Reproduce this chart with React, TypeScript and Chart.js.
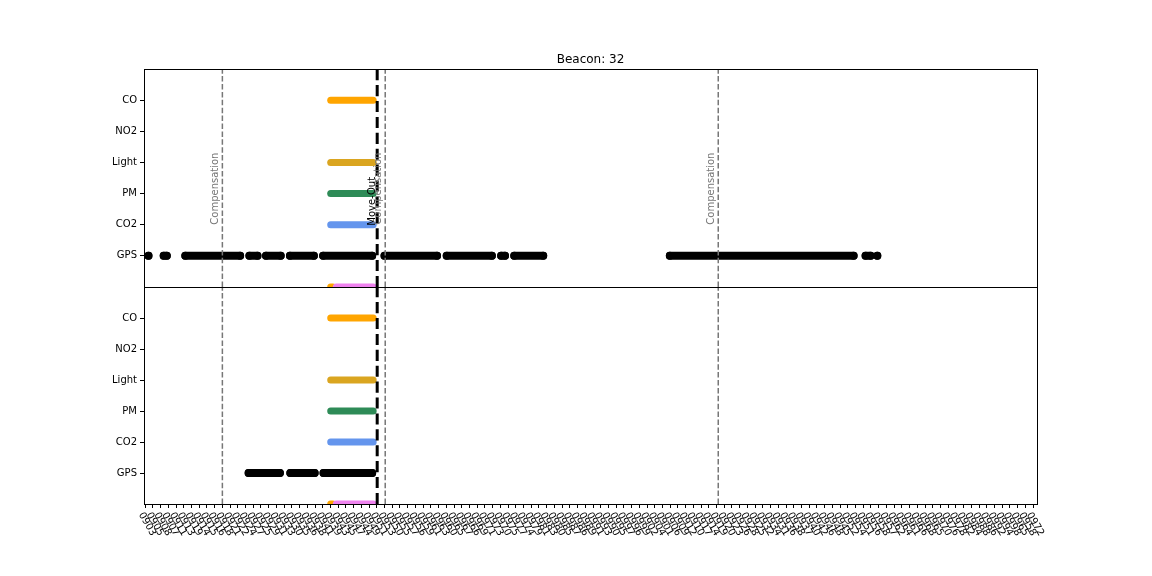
import React, { useEffect, useRef } from "react";
import { Chart, registerables } from "chart.js";
Chart.register(...registerables);

// ---------- data ----------
const yCategories = ["", "GPS", "CO2", "PM", "Light", "NO2", "CO"];
const xTickLabels = (
  "0903 0905 0908 0907 0911 0913 0919 0914 0915 0916 " +
  "0918 0921 0922 0924 0927 0925 0929 0931 0933 0930 " +
  "0935 0936 0938 0941 0939 0943 0945 0947 0944 0949 " +
  "0951 0953 0950 0955 0957 0956 0959 0961 0963 0960 " +
  "0965 0967 0966 0969 0971 0973 0970 0975 0977 0974 " +
  "0979 0981 0983 0980 0985 0987 0986 0989 0991 0993 " +
  "0990 0995 0997 0996 0999 0902 0904 0901 0906 0909 " +
  "0912 0910 0917 0914 0919 0920 0923 0926 0928 0925 " +
  "0932 0934 0931 0936 0938 0937 0940 0942 0946 0948 " +
  "0945 0952 0954 0951 0956 0958 0957 0962 0964 0961 " +
  "0966 0968 0965 0970 0976 0978 0982 0984 0988 0986 " +
  "0992 0994 0998 0965 0958 0972"
).split(" ");

// sensor runs [start, end] in x-index units
const coRun = [24.03, 29.53];
const lightRun = [24.03, 29.53];
const pmRun = [24.03, 29.53];
const co2Run = [24.03, 29.53];
const orangeTipRun = [24.03, 24.3];
const pinkRun = [24.75, 29.53];

const topGpsRuns: number[][] = [
  [0.43, 0.43],
  [2.4, 2.8],
  [5.2, 12.3],
  [13.5, 14.55],
  [15.65, 17.55],
  [18.75, 21.85],
  [23.05, 29.4],
  [31.0, 37.8],
  [39.05, 44.9],
  [46.1, 46.6],
  [47.8, 51.55],
  [67.95, 91.75],
  [93.3, 93.95],
  [94.82, 94.82],
];
const bottomGpsRuns: number[][] = [
  [13.4, 17.45],
  [18.8, 21.95],
  [23.1, 29.4],
];

const compensationX = [10.0, 31.09, 74.22];
const moveOutX = 30.05;
const titleText = "Beacon: 32";

const X_MIN = -0.15;
const X_MAX = 115.5;
const FONT = "'DejaVu Sans', sans-serif";

function runsToData(runs: number[][], y: number) {
  const out: { x: number; y: number | null }[] = [];
  runs.forEach((r, i) => {
    if (i > 0) out.push({ x: (runs[i - 1][1] + r[0]) / 2, y: null });
    out.push({ x: r[0], y });
    if (r[1] !== r[0]) out.push({ x: r[1], y });
  });
  return out;
}

function seg(run: number[], y: number, color: string, order: number, width = 7) {
  return {
    data: runsToData([run], y),
    borderColor: color,
    backgroundColor: color,
    borderWidth: width,
    borderCapStyle: "round" as const,
    pointRadius: 0,
    order,
  };
}

function makeDatasets(gpsRuns: number[][]) {
  return [
    seg(pinkRun, 0, "#EE82EE", 0),
    seg(orangeTipRun, 0, "#FFA500", 1),
    seg(coRun, 6, "#FFA500", 2),
    seg(lightRun, 4, "#DAA520", 2),
    seg(pmRun, 3, "#2E8B57", 2),
    seg(co2Run, 2, "#6495ED", 2),
    {
      data: runsToData(gpsRuns, 1),
      borderColor: "#000000",
      backgroundColor: "#000000",
      borderWidth: 8,
      borderCapStyle: "round" as const,
      pointRadius: 4,
      pointHoverRadius: 4,
      pointBorderWidth: 0,
      pointBackgroundColor: "#000000",
      order: 2,
    },
  ];
}

function annotPlugin(isTop: boolean) {
  return {
    id: "annot" + (isTop ? "Top" : "Bottom"),
    afterDatasetsDraw(chart: any) {
      const { ctx, chartArea: a, scales } = chart;
      const x = scales.x;
      const y = scales.y;
      ctx.save();
      // compensation lines
      ctx.strokeStyle = "#777777";
      ctx.lineWidth = 1.5;
      ctx.setLineDash([5.5, 2.4]);
      compensationX.forEach((cx) => {
        const px = x.getPixelForValue(cx);
        ctx.beginPath();
        ctx.moveTo(px, a.bottom);
        ctx.lineTo(px, a.top);
        ctx.stroke();
      });
      // move-out line
      ctx.strokeStyle = "#000000";
      ctx.lineWidth = 3;
      ctx.setLineDash([11.1, 4.8]);
      {
        const px = x.getPixelForValue(moveOutX);
        ctx.beginPath();
        ctx.moveTo(px, a.bottom);
        ctx.lineTo(px, a.top);
        ctx.stroke();
      }
      ctx.setLineDash([]);
      if (isTop) {
        ctx.font = "10px " + FONT;
        ctx.textAlign = "left";
        ctx.textBaseline = "alphabetic";
        const ty = y.getPixelForValue(2);
        ctx.fillStyle = "#777777";
        compensationX.forEach((cx) => {
          const px = x.getPixelForValue(cx);
          ctx.save();
          ctx.translate(px - 4.5, ty);
          ctx.rotate(-Math.PI / 2);
          ctx.fillText("Compensation", 0, 0);
          ctx.restore();
        });
        ctx.fillStyle = "#000000";
        {
          const px = x.getPixelForValue(moveOutX);
          ctx.save();
          ctx.translate(px - 2, ty + 1);
          ctx.rotate(-Math.PI / 2);
          ctx.fillText("Move-Out", 0, 0);
          ctx.restore();
        }
        // title
        ctx.font = "12px " + FONT;
        ctx.textAlign = "center";
        ctx.fillText(titleText, (a.left + a.right) / 2, a.top - 6);
      } else {
        // x tick labels, rotated 60deg clockwise, centred on tick
        ctx.font = "10px " + FONT;
        ctx.fillStyle = "#000000";
        ctx.textAlign = "center";
        ctx.textBaseline = "middle";
        const ang = Math.PI / 3;
        xTickLabels.forEach((lab, i) => {
          const px = x.getPixelForValue(i);
          const w = ctx.measureText(lab).width;
          const h = 9;
          const halfH = (w * Math.sin(ang) + h * Math.cos(ang)) / 2;
          ctx.save();
          ctx.translate(px + 2, a.bottom + 7 + halfH);
          ctx.rotate(ang);
          ctx.fillText(lab, 0, 0);
          ctx.restore();
        });
      }
      // frame (edges on the same pixel rows as the neighbouring axes)
      ctx.strokeStyle = "#000000";
      ctx.lineWidth = 1;
      ctx.strokeRect(a.left + 0.5, a.top + 0.5, a.right - a.left, a.bottom - a.top);
      ctx.restore();
    },
  };
}

function makeConfig(isTop: boolean): any {
  return {
    type: "line",
    data: { datasets: makeDatasets(isTop ? topGpsRuns : bottomGpsRuns) },
    plugins: [annotPlugin(isTop)],
    options: {
      animation: false,
      responsive: false,
      devicePixelRatio: 1,
      events: [],
      spanGaps: false,
      layout: {
        padding: isTop
          ? { top: 69, left: 100, right: 115, bottom: 289 }
          : { top: 287, left: 100, right: 115, bottom: 0 },
      },
      plugins: {
        legend: { display: false },
        title: { display: false },
        tooltip: { enabled: false },
      },
      scales: {
        x: {
          type: "linear",
          min: X_MIN,
          max: X_MAX,
          display: !isTop,
          afterBuildTicks: (s: any) => {
            s.ticks = xTickLabels.map((_, i) => ({ value: i }));
          },
          afterFit: (s: any) => {
            s.height = isTop ? 0 : 72;
          },
          ticks: { display: false, autoSkip: false },
          grid: {
            drawOnChartArea: false,
            drawTicks: true,
            tickLength: 4,
            color: "#000000",
            lineWidth: 1,
          },
          border: { display: false },
        },
        y: {
          type: "linear",
          min: 0,
          max: 7,
          afterBuildTicks: (s: any) => {
            s.ticks = [1, 2, 3, 4, 5, 6].map((v) => ({ value: v }));
          },
          afterFit: (s: any) => {
            s.width = 44;
          },
          ticks: {
            autoSkip: false,
            padding: 3,
            color: "#000000",
            font: { size: 10, family: FONT },
            callback: (v: any) => yCategories[v] ?? "",
          },
          grid: {
            drawOnChartArea: false,
            drawTicks: true,
            tickLength: 4,
            color: "#000000",
            lineWidth: 1,
          },
          border: { display: false },
        },
      },
    },
  };
}

export default function App() {
  const topRef = useRef<HTMLCanvasElement>(null);
  const botRef = useRef<HTMLCanvasElement>(null);
  useEffect(() => {
    Chart.defaults.font.family = FONT;
    const bottom = new Chart(botRef.current!, makeConfig(false));
    const top = new Chart(topRef.current!, makeConfig(true));
    return () => {
      top.destroy();
      bottom.destroy();
    };
  }, []);
  const cs: React.CSSProperties = {
    position: "absolute",
    left: 0,
    top: 0,
    width: 1152,
    height: 576,
  };
  return (
    <div
      style={{
        position: "fixed",
        left: 0,
        top: 0,
        width: 1152,
        height: 576,
        background: "#ffffff",
      }}
    >
      <canvas ref={botRef} width={1152} height={576} style={cs} />
      <canvas ref={topRef} width={1152} height={576} style={cs} />
    </div>
  );
}
